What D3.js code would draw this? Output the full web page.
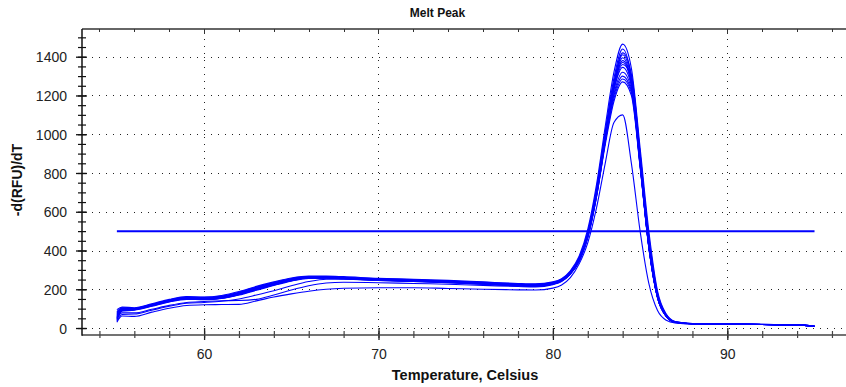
<!DOCTYPE html>
<html><head><meta charset="utf-8">
<script src="https://cdn.jsdelivr.net/npm/d3@7"></script>
<style>
html,body{margin:0;padding:0;background:#fff;}
svg{display:block;font-family:"Liberation Sans",Arial,sans-serif;}
</style></head>
<body>
<svg id="chart" width="846" height="387"></svg>
<script>
// ---- data ----
const title = "Melt Peak";
const xLabel = "Temperature, Celsius";
const yLabel = "-d(RFU)/dT";
const xTickLabels = [60, 70, 80, 90];
const yTickLabels = [0, 200, 400, 600, 800, 1000, 1200, 1400];
const threshold = 500;
const thresholdRange = [55, 95];
const temps = [55,55.3,56,57,58,59,60,61,62,63,64,65,66,67,68,70,72,74,76,78,79,80,80.5,81,81.5,82,82.5,83,83.5,84,84.5,85,85.5,86,86.5,87,88,90,92,94,95];
const c1  = [95,108,105,125,148,162,160,168,188,215,238,258,268,268,265,256,252,246,238,230,228,238,255,295,370,510,740,1040,1320,1465,1340,930,500,190,72,34,23,21,19,17,9];
const c2  = [70,100,100,120,142,158,155,163,182,210,232,252,262,264,260,252,248,242,234,226,224,234,250,288,360,495,720,1015,1290,1440,1290,860,425,160,62,30,22,20,18,16,8];
const c3  = [60,95,98,118,140,155,152,160,178,205,228,250,262,262,258,250,245,240,232,225,222,232,248,285,355,490,710,1000,1270,1420,1310,900,475,180,68,32,22,20,18,16,9];
const c4  = [45,90,95,115,138,152,150,157,175,200,225,248,260,260,256,248,243,237,230,222,220,230,246,282,350,480,700,990,1255,1395,1265,845,415,155,60,29,21,20,18,16,10];
const c5  = [85,105,102,122,145,160,158,165,185,212,235,255,265,265,262,254,249,243,236,228,226,236,252,290,362,495,712,1000,1250,1370,1255,840,418,158,61,30,22,20,18,16,9];
const c6  = [55,92,96,116,138,150,148,154,172,198,222,245,258,258,255,247,242,236,228,220,218,228,244,280,346,470,685,975,1230,1345,1250,850,425,160,62,31,22,20,18,16,8];
const c7  = [40,88,92,112,135,148,146,152,170,195,220,242,256,257,254,246,240,234,226,218,216,226,242,278,342,465,675,960,1210,1320,1235,845,420,158,61,30,22,20,18,16,9];
const c8  = [75,100,100,120,142,156,152,160,180,206,230,250,262,263,259,251,246,240,232,224,222,232,248,286,356,485,695,975,1200,1300,1225,840,420,157,60,30,22,20,18,16,10];
const c9  = [65,96,98,118,140,154,150,158,176,202,226,247,260,260,257,249,244,238,230,222,220,230,246,283,352,478,688,960,1185,1285,1215,835,418,156,60,30,22,20,18,16,9];
const c10 = [50,90,94,114,136,150,147,154,173,198,222,244,257,258,255,247,242,236,228,220,218,228,244,280,346,470,678,945,1170,1270,1200,830,415,155,60,29,21,20,18,16,8];
const c11 = [80,102,101,121,143,158,155,162,181,208,231,252,263,264,260,252,247,241,233,225,223,233,249,286,352,470,680,960,1230,1360,1300,900,460,175,68,33,23,21,19,17,10];
const c12 = [50,78,78,97,117,132,137,141,142,148,170,196,218,232,236,234,230,226,220,214,212,224,240,278,348,478,695,985,1245,1380,1270,855,425,160,62,30,22,20,18,16,9];
const c13 = [30,62,60,82,102,116,120,121,122,140,160,176,190,200,205,208,208,204,200,197,196,206,222,260,330,440,620,850,1060,1100,850,500,230,90,40,26,21,20,18,16,8];
const c14 = [35,70,72,92,112,128,132,138,150,170,192,218,240,252,252,246,240,234,226,218,216,226,242,280,350,480,700,990,1260,1410,1280,860,430,162,62,31,22,20,18,16,9];
const series = [c1,c2,c3,c4,c5,c6,c7,c8,c9,c10,c11,c12,c13,c14];

// ---- layout ----
const svg = d3.select("#chart");
const pLeft = 82, pTop = 29, pBottom = 335, pRight = 849.4;
const x = d3.scaleLinear().domain([53, 97]).range([pLeft, pRight]);
const y = d3.scaleLinear().domain([-36, 1543]).range([pBottom, pTop]);

svg.append("clipPath").attr("id","clip").append("rect")
  .attr("x", pLeft).attr("y", pTop).attr("width", 846 - pLeft).attr("height", pBottom - pTop);

// grid (dotted)
const grid = svg.append("g").attr("stroke", "#222").attr("stroke-width", 1)
  .attr("stroke-dasharray", "1,6").attr("shape-rendering","crispEdges");
yTickLabels.forEach(v => {
  grid.append("line").attr("x1", pLeft + 3).attr("x2", 846)
    .attr("y1", Math.round(y(v)) + 0.5).attr("y2", Math.round(y(v)) + 0.5);
});
xTickLabels.forEach(v => {
  grid.append("line").attr("y1", pTop + 3).attr("y2", pBottom)
    .attr("x1", Math.round(x(v)) + 0.5).attr("x2", Math.round(x(v)) + 0.5);
});

// top border with ticks
svg.append("line").attr("x1", pLeft).attr("x2", 846).attr("y1", pTop).attr("y2", pTop)
  .attr("stroke", "#666").attr("stroke-width", 2);
const xMinor = d3.range(54, 97, 2);
const topTicks = svg.append("g").attr("stroke", "#333").attr("stroke-width", 1).attr("shape-rendering","crispEdges");
xMinor.forEach(v => {
  const major = xTickLabels.includes(v);
  topTicks.append("line").attr("x1", Math.round(x(v)) + 0.5).attr("x2", Math.round(x(v)) + 0.5)
    .attr("y1", pTop).attr("y2", pTop + (major ? 5 : 3));
});

// bottom axis
const xAxisG = svg.append("g").attr("transform", `translate(0,${pBottom})`);
xAxisG.call(d3.axisBottom(x).tickValues(xMinor).tickSize(3).tickFormat(""))
  .call(g => g.select(".domain").remove());
xAxisG.selectAll(".tick line").attr("y1", -4).attr("y2", 3).attr("stroke", "#444").attr("stroke-width", 1.2);
const xMajG = svg.append("g").attr("transform", `translate(0,${pBottom})`);
xMajG.call(d3.axisBottom(x).tickValues(xTickLabels).tickSize(6).tickFormat(d3.format("d")))
  .call(g => g.select(".domain").remove());
xMajG.selectAll(".tick line").attr("y1", -7).attr("y2", 5).attr("stroke", "#222").attr("stroke-width", 1.3);
xMajG.selectAll(".tick text").attr("y", 0).attr("dy", 0).attr("transform", "translate(0,24)")
  .attr("font-size", 14).attr("fill", "#222").attr("font-family", "Liberation Sans, Arial, sans-serif");
svg.append("line").attr("x1", pLeft).attr("x2", 846).attr("y1", pBottom).attr("y2", pBottom)
  .attr("stroke", "#444").attr("stroke-width", 1.5);

// left axis
const yMinor = d3.range(0, 1501, 50);
const yAxisG = svg.append("g").attr("transform", `translate(${pLeft},0)`);
yAxisG.call(d3.axisLeft(y).tickValues(yMinor).tickSize(4).tickFormat(""))
  .call(g => g.select(".domain").remove());
yAxisG.selectAll(".tick line").attr("x1", -4).attr("x2", 4).attr("stroke", "#111").attr("stroke-width", 1.2);
const yMajG = svg.append("g").attr("transform", `translate(${pLeft},0)`);
yMajG.call(d3.axisLeft(y).tickValues(yTickLabels).tickSize(5).tickFormat(d3.format("d")))
  .call(g => g.select(".domain").remove());
yMajG.selectAll(".tick line").attr("x1", -6).attr("x2", 5).attr("stroke", "#111").attr("stroke-width", 1.3);
yMajG.selectAll(".tick text").attr("x", -15).attr("dy", "0.36em")
  .attr("font-size", 14).attr("fill", "#222").attr("font-family", "Liberation Sans, Arial, sans-serif");
svg.append("line").attr("x1", pLeft).attr("x2", pLeft).attr("y1", pTop).attr("y2", pBottom + 0.75)
  .attr("stroke", "#111").attr("stroke-width", 1.5);

// threshold line
svg.append("line").attr("x1", x(thresholdRange[0])).attr("x2", x(thresholdRange[1]))
  .attr("y1", y(threshold)).attr("y2", y(threshold))
  .attr("stroke", "#0000ff").attr("stroke-width", 2);

// curves
const line = d3.line().x((d, i) => x(temps[i])).y(d => y(d)).curve(d3.curveMonotoneX);
svg.append("g").attr("clip-path", "url(#clip)")
  .selectAll("path").data(series).join("path")
  .attr("d", line).attr("fill", "none").attr("stroke", "#0000ff").attr("stroke-width", 1.1);

// titles
svg.append("text").attr("x", 437.5).attr("y", 17).attr("text-anchor", "middle")
  .attr("font-size", 12).attr("font-weight", "bold").attr("fill", "#111").text(title);
svg.append("text").attr("x", 465).attr("y", 380).attr("text-anchor", "middle")
  .attr("font-size", 14.5).attr("font-weight", "bold").attr("fill", "#111").text(xLabel);
svg.append("text").attr("transform", "translate(22,180) rotate(-90)").attr("text-anchor", "middle")
  .attr("font-size", 14).attr("font-weight", "bold").attr("fill", "#111").text(yLabel);
</script>
</body></html>
